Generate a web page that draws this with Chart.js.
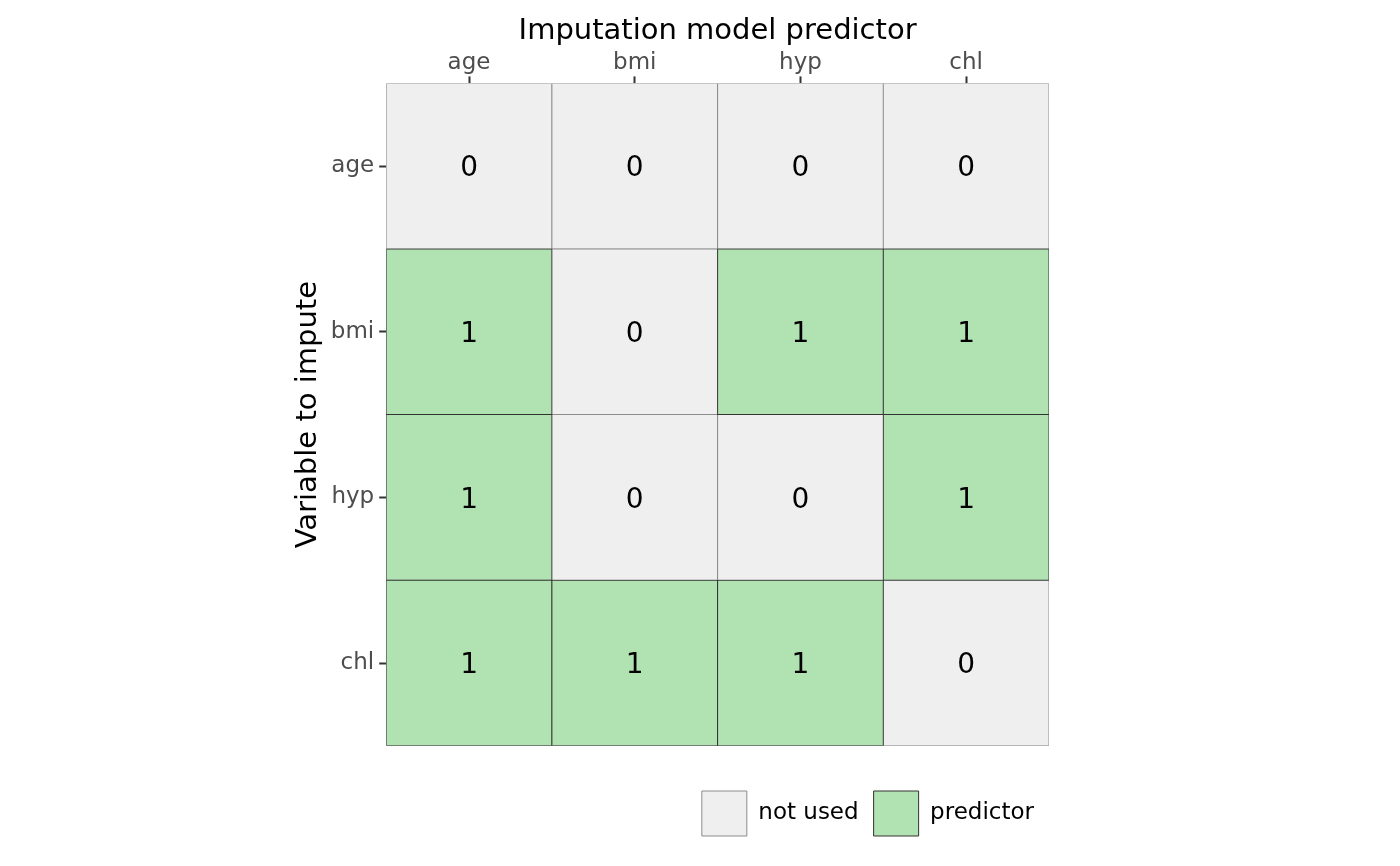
<!DOCTYPE html>
<html>
<head>
<meta charset="utf-8">
<script src="https://cdn.jsdelivr.net/npm/chart.js@4.4.1/dist/chart.umd.min.js"></script>
<style>
  html, body { margin: 0; padding: 0; background: #ffffff; }
  canvas { display: block; }
</style>
</head>
<body>
<canvas id="c" width="1400" height="866"></canvas>
<script>
// Data
const colLabels = ['age', 'bmi', 'hyp', 'chl'];   // imputation model predictor
const rowLabels = ['age', 'bmi', 'hyp', 'chl'];   // variable to impute
const rowAge = [0, 0, 0, 0];
const rowBmi = [1, 0, 1, 1];
const rowHyp = [1, 0, 0, 1];
const rowChl = [1, 1, 1, 0];
const predMatrix = [rowAge, rowBmi, rowHyp, rowChl];
const legendLabels = ['not used', 'predictor'];

const fillColors = ['#efefef', '#b1e2b1'];
const edgeColors = ['#8c8c8c', '#333333'];
const drawOrder = [2, 1];

function cellsFor(value) {
  const out = [];
  predMatrix.forEach((row, r) => {
    row.forEach((v, c) => {
      if (v === value) out.push({ x: colLabels[c], y: [r, r + 1], v: v });
    });
  });
  return out;
}

const datasets = [0, 1].map(val => ({
  label: legendLabels[val],
  data: cellsFor(val),
  order: drawOrder[val],
  backgroundColor: fillColors[val],
  borderColor: edgeColors[val],
  borderWidth: 1,
  borderSkipped: false,
  inflateAmount: 0.5,
  barPercentage: 1,
  categoryPercentage: 1
}));

const cellText = {
  id: 'cellText',
  afterDatasetsDraw(chart) {
    const ctx = chart.ctx;
    const size = 28;
    ctx.save();
    ctx.font = size + 'px "DejaVu Sans"';
    ctx.fillStyle = '#000000';
    ctx.textAlign = 'center';
    ctx.textBaseline = 'alphabetic';
    chart.data.datasets.forEach((ds, d) => {
      const meta = chart.getDatasetMeta(d);
      meta.data.forEach((el, i) => {
        const cy = (el.y + el.base) / 2;
        ctx.fillText(String(ds.data[i].v), el.x, cy + size * 0.729 / 2);
      });
    });
    ctx.restore();
  }
};

Chart.defaults.font.family = '"DejaVu Sans", sans-serif';

new Chart(document.getElementById('c'), {
  type: 'bar',
  data: { labels: colLabels, datasets: datasets },
  plugins: [cellText],
  options: {
    responsive: false,
    devicePixelRatio: 1,
    animation: false,
    layout: { padding: { left: 287, right: 351, top: 14, bottom: 20 } },
    plugins: {
      tooltip: { enabled: false },
      legend: {
        position: 'bottom',
        align: 'end',
        title: { display: true, text: '', font: { size: 1 }, padding: { top: 29, bottom: 0 } },
        labels: {
          boxWidth: 45,
          boxHeight: 45,
          padding: 15,
          color: '#000000',
          font: { size: 23 },
          sort: (a, b) => a.datasetIndex - b.datasetIndex
        }
      }
    },
    scales: {
      x: {
        type: 'category',
        position: 'top',
        stacked: true,
        offset: true,
        border: { display: false },
        grid: { offset: false, drawOnChartArea: false, drawTicks: true, tickLength: 7, tickColor: '#333333', tickWidth: 2 },
        ticks: { color: '#4d4d4d', font: { size: 23 }, padding: 0 },
        title: { display: true, text: 'Imputation model predictor', color: '#000000', font: { size: 29 }, padding: { top: 0, bottom: 0 } }
      },
      y: {
        type: 'linear',
        min: 0,
        max: 4,
        reverse: true,
        border: { display: false },
        grid: { drawOnChartArea: false, drawTicks: true, tickLength: 7, tickColor: '#333333', tickWidth: 2 },
        afterBuildTicks: (scale) => { scale.ticks = rowLabels.map((_, i) => ({ value: i + 0.5 })); },
        ticks: {
          color: '#4d4d4d',
          font: { size: 23 },
          padding: 5,
          autoSkip: false,
          callback: (v) => rowLabels[Math.round(v - 0.5)]
        },
        title: { display: true, text: 'Variable to impute', color: '#000000', font: { size: 29 }, padding: { top: 4, bottom: 0 } }
      }
    }
  }
});
</script>
</body>
</html>
